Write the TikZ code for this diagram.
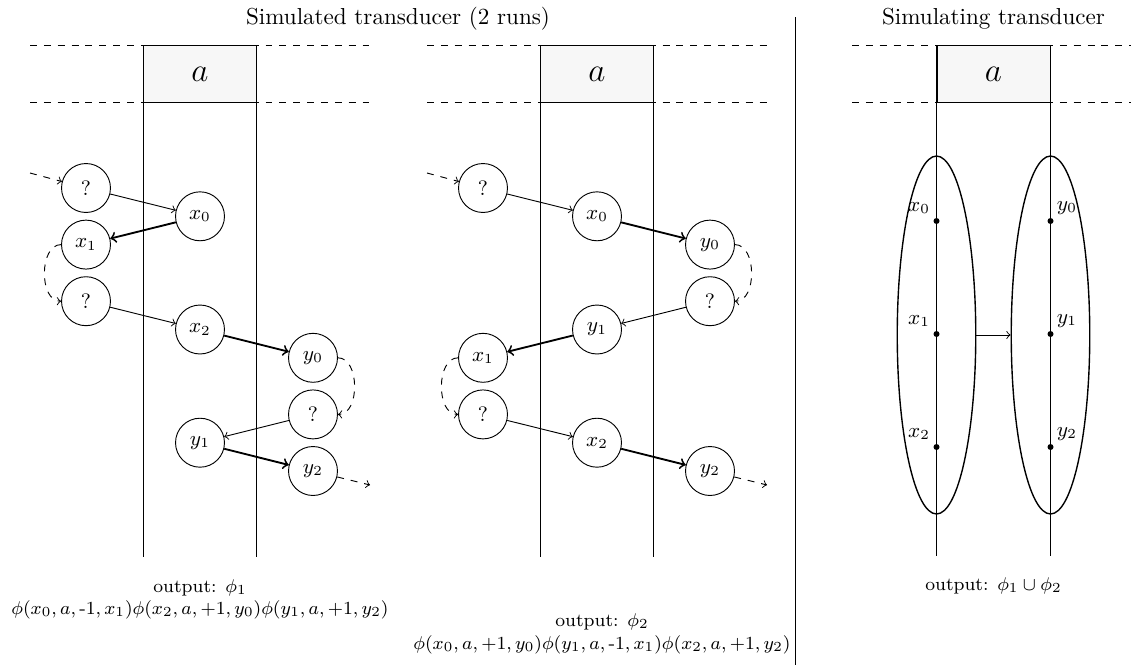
\documentclass[tikz,border=0pt]{standalone}
\usetikzlibrary{shapes.geometric}
\begin{document}
\begin{tikzpicture}[x=0.433pt,y=-0.433pt,
  st/.style={circle,draw,thin,minimum size=21.2pt,inner sep=0pt,font=\small},
  tr/.style={->,thin},
  bold/.style={->,thick},
  dsh/.style={->,dashed,thin},
  tapeline/.style={semithick},
  tapebox/.style={draw,semithick,fill=black!3,minimum width=49.1pt,minimum height=24.5pt,inner sep=0pt,font=\Large},
  dotn/.style={circle,fill,inner sep=0pt,minimum size=2.6pt},
  elln/.style={ellipse,draw,semithick,minimum width=34pt,minimum height=155pt,inner sep=0pt},
  lab/.style={font=\small,inner sep=0pt},
  outtxt/.style={anchor=base,font=\footnotesize}]
\useasboundingbox (0,0) rectangle (1131,665);

% titles
\node[anchor=base] (title1) at (398,24) {Simulated transducer (2 runs)};
\node[anchor=base] (title2) at (993.5,24) {Simulating transducer};

% separator
\draw[thin] (795.5,17) -- (795.5,665);

% tapes of the two simulated runs
\foreach \ox in {0,397}{
  \draw[dashed,thin] (30+\ox,45.5) -- (370+\ox,45.5);
  \draw[dashed,thin] (30+\ox,102.5) -- (370+\ox,102.5);
  \draw[tapeline] (143.5+\ox,102.5) -- (143.5+\ox,557);
  \draw[tapeline] (256.5+\ox,102.5) -- (256.5+\ox,557);
}
\node[tapebox] (tapeA) at (200,74) {$a$};
\node[tapebox] (tapeB) at (597,74) {$a$};

% ---------- run 1 ----------
\node[st] (aq1) at (86,188) {?};
\node[st] (ax0) at (200,216.3) {$x_0$};
\node[st] (ax1) at (86,244.6) {$x_1$};
\node[st] (aq2) at (86,301.2) {?};
\node[st] (ax2) at (200,329.5) {$x_2$};
\node[st] (ay0) at (313,357.8) {$y_0$};
\node[st] (aq3) at (313,414.4) {?};
\node[st] (ay1) at (200,442.7) {$y_1$};
\node[st] (ay2) at (313,471) {$y_2$};
\coordinate (ain) at (30,173);
\coordinate (aout) at (370,485);

\draw[dsh] (ain) -- (aq1);
\draw[tr] (aq1) -- (ax0);
\draw[bold] (ax0) -- (ax1);
\draw[dsh] (ax1.west) to[out=180,in=180] (aq2.west);
\draw[tr] (aq2) -- (ax2);
\draw[bold] (ax2) -- (ay0);
\draw[dsh] (ay0.east) to[out=0,in=0] (aq3.east);
\draw[tr] (aq3) -- (ay1);
\draw[bold] (ay1) -- (ay2);
\draw[dsh] (ay2) -- (aout);

% ---------- run 2 ----------
\node[st] (bq1) at (483,188) {?};
\node[st] (bx0) at (597,216.3) {$x_0$};
\node[st] (by0) at (710,244.6) {$y_0$};
\node[st] (bq2) at (710,301.2) {?};
\node[st] (by1) at (597,329.5) {$y_1$};
\node[st] (bx1) at (483,357.8) {$x_1$};
\node[st] (bq3) at (483,414.4) {?};
\node[st] (bx2) at (597,442.7) {$x_2$};
\node[st] (by2) at (710,471) {$y_2$};
\coordinate (bin) at (427,173);
\coordinate (bout) at (767,485);

\draw[dsh] (bin) -- (bq1);
\draw[tr] (bq1) -- (bx0);
\draw[bold] (bx0) -- (by0);
\draw[dsh] (by0.east) to[out=0,in=0] (bq2.east);
\draw[tr] (bq2) -- (by1);
\draw[bold] (by1) -- (bx1);
\draw[dsh] (bx1.west) to[out=180,in=180] (bq3.west);
\draw[tr] (bq3) -- (bx2);
\draw[bold] (bx2) -- (by2);
\draw[dsh] (by2) -- (bout);

% ---------- simulating transducer ----------
\draw[dashed,thin] (852,45.5) -- (1131,45.5);
\draw[dashed,thin] (852,102.5) -- (1131,102.5);
\draw[tapeline] (936.5,102.5) -- (936.5,556);
\draw[tapeline] (1050.5,102.5) -- (1050.5,556);
\node[tapebox] (tapeC) at (993.5,74) {$a$};

\node[elln] (ellL) at (936.5,335) {};
\node[elln] (ellR) at (1050.5,335) {};
\draw[->,thin] (ellL.east) -- (ellR.west);

\node[dotn] (dx0) at (936.5,221) {};
\node[dotn] (dx1) at (936.5,334) {};
\node[dotn] (dx2) at (936.5,447) {};
\node[dotn] (dy0) at (1050.5,221) {};
\node[dotn] (dy1) at (1050.5,334) {};
\node[dotn] (dy2) at (1050.5,447) {};
\node[lab] (lx0) at (919,208) {$x_0$};
\node[lab] (lx1) at (919,321) {$x_1$};
\node[lab] (lx2) at (919,434) {$x_2$};
\node[lab] (ly0) at (1067,208) {$y_0$};
\node[lab] (ly1) at (1067,321) {$y_1$};
\node[lab] (ly2) at (1067,434) {$y_2$};

% ---------- outputs ----------
\node[outtxt] (o1) at (200,592) {output: $\phi_1$};
\node[outtxt] (f1) at (200,614) {$\phi(x_0,a,\mbox{-}1,x_1)\phi(x_2,a,{+}1,y_0)\phi(y_1,a,{+}1,y_2)$};
\node[outtxt] (o2) at (602,626) {output: $\phi_2$};
\node[outtxt] (f2) at (602,649) {$\phi(x_0,a,{+}1,y_0)\phi(y_1,a,\mbox{-}1,x_1)\phi(x_2,a,{+}1,y_2)$};
\node[outtxt] (o3) at (993.5,590) {output: $\phi_1\cup\phi_2$};
\end{tikzpicture}
\end{document}
